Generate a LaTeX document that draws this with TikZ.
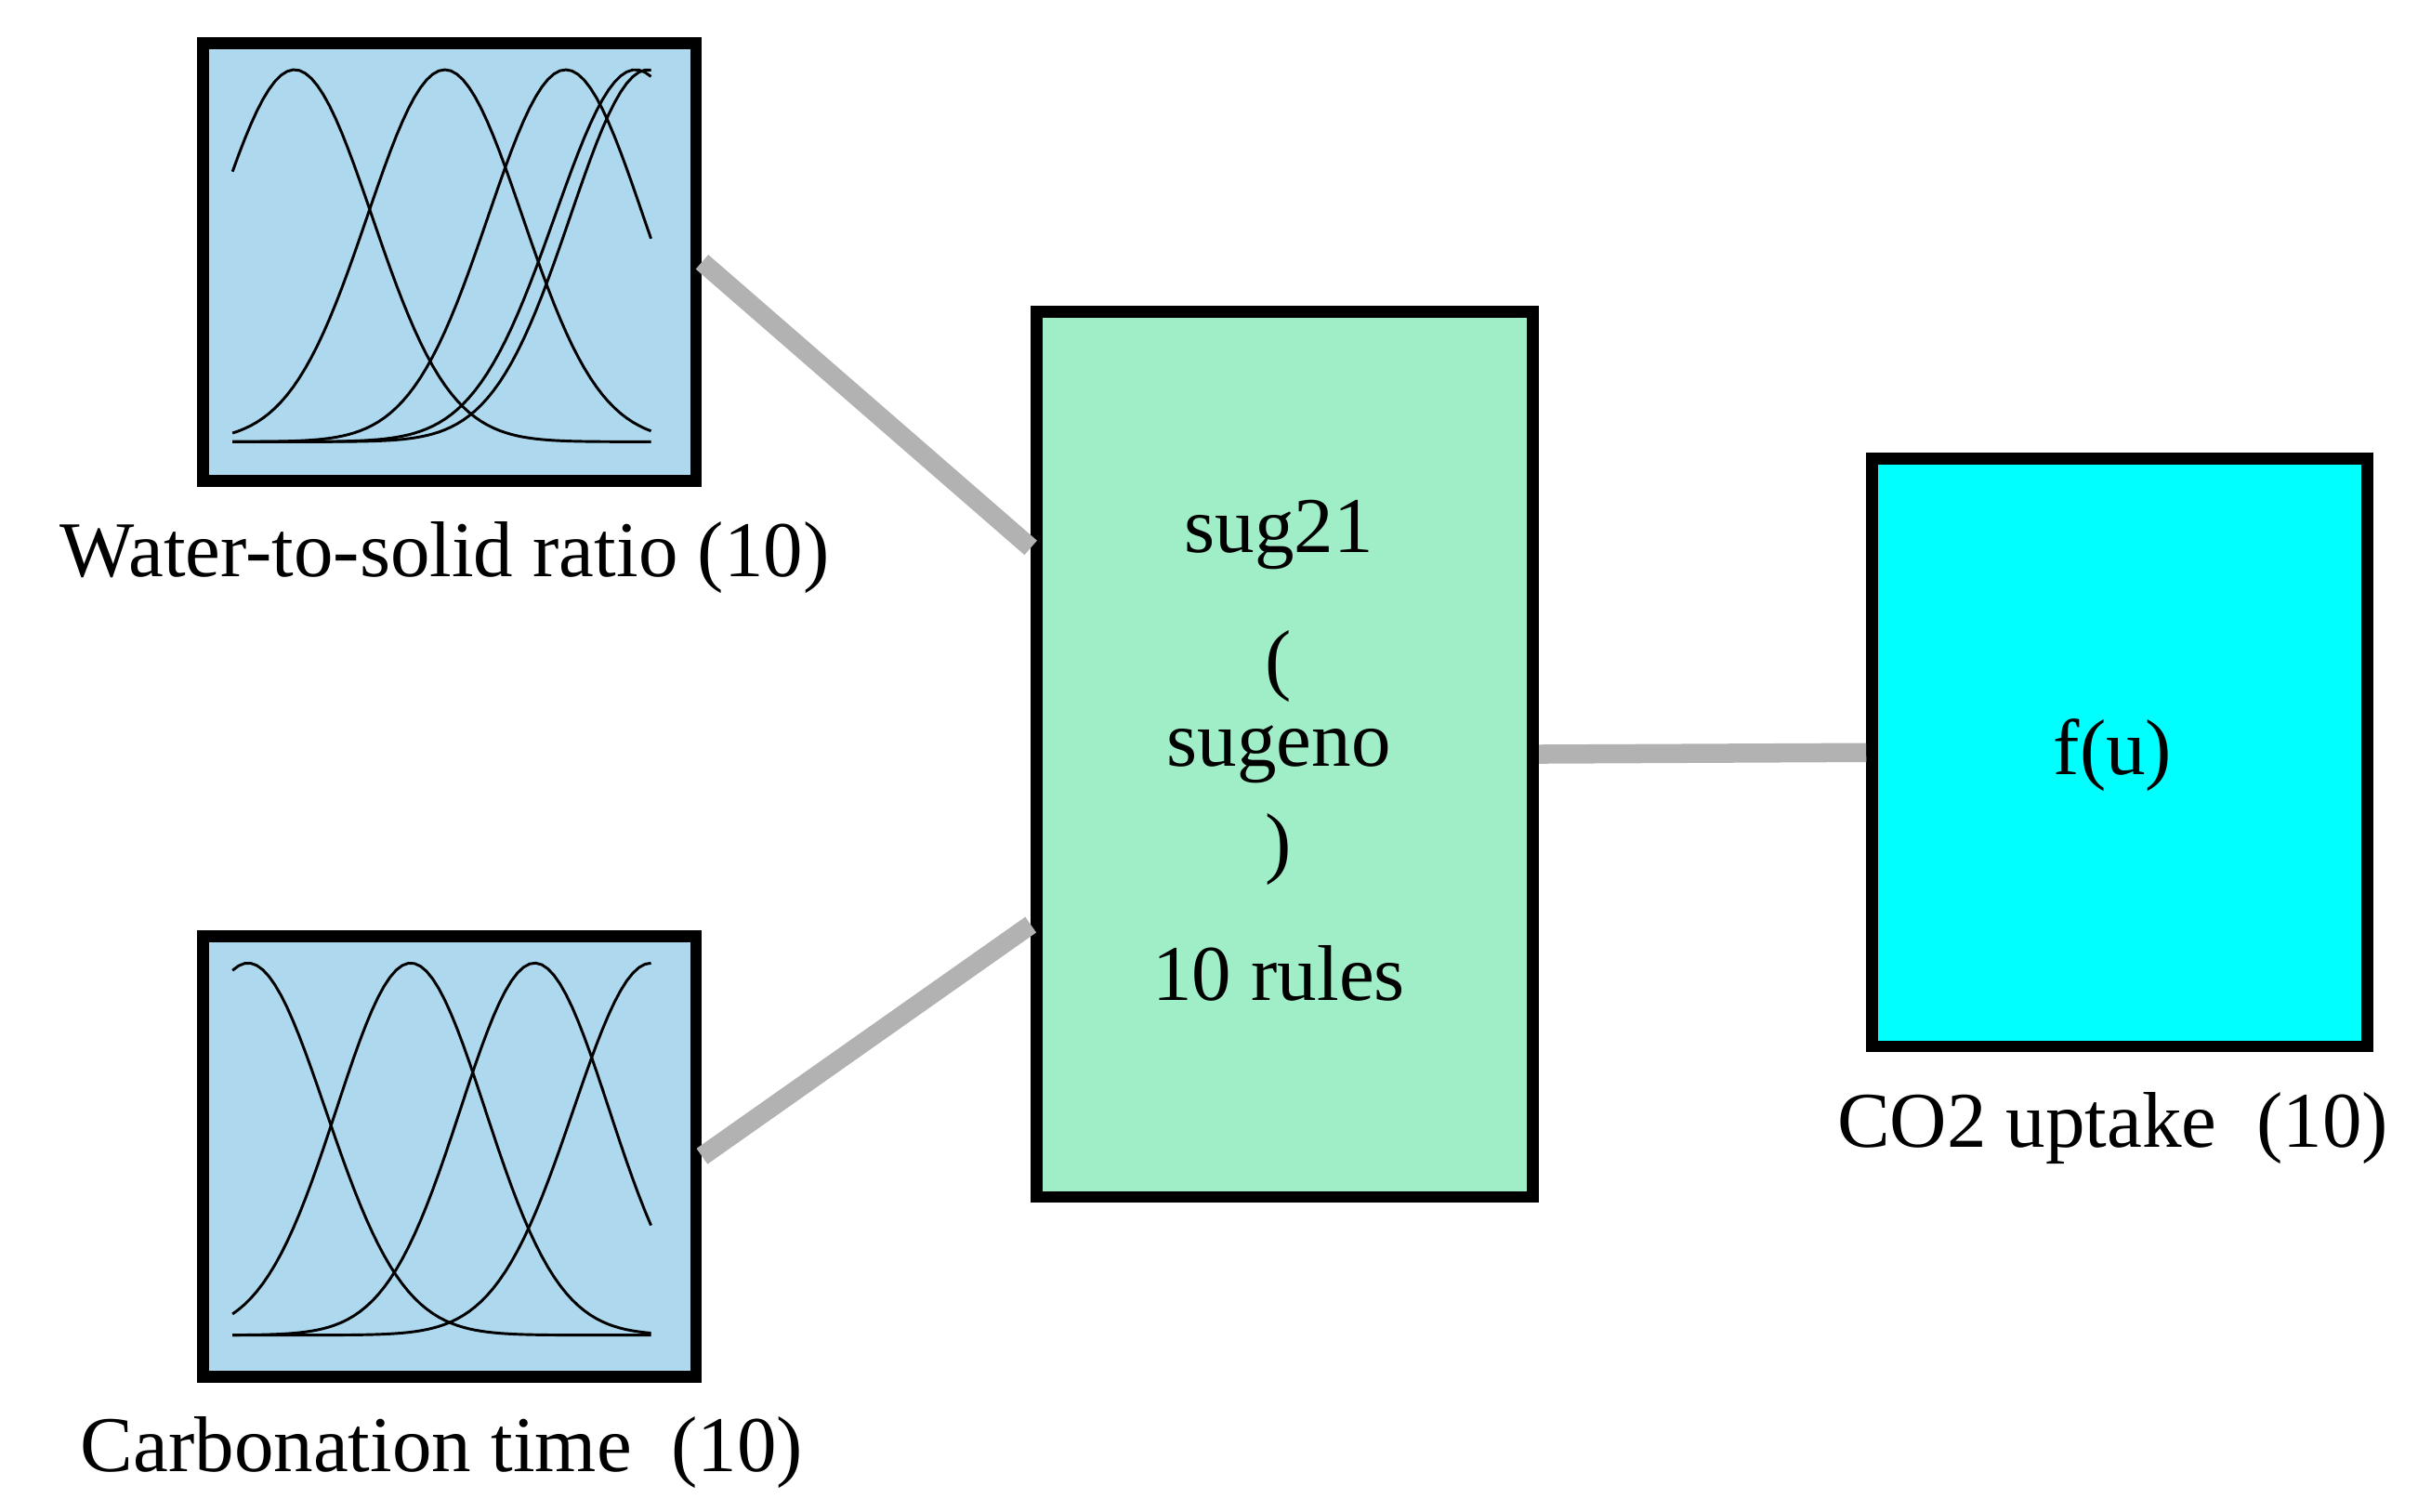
\documentclass[tikz,border=0pt]{standalone}
\usepackage{fontspec}
\setmainfont{Liberation Serif}
\usetikzlibrary{calc}

\definecolor{inblue}{RGB}{173,216,238}
\definecolor{rulegreen}{RGB}{160,238,200}
\definecolor{outcyan}{RGB}{0,255,255}
\tikzset{
  box/.style = {draw, line width=2.2pt, inner sep=0pt, anchor=north west},
  link/.style = {draw=black!30, line width=3.5pt},
  lbl/.style = {font=\fontsize{14.5}{17}\selectfont}
}
\newcommand{\mf}[2]{% centre, width
  \draw[line width=0.5pt, domain=150:420, samples=70]
    plot (\x, {285 - 240*exp(-0.5*((\x-#1)/#2)^2)});}

\begin{document}
\begin{tikzpicture}[x=0.01cm, y=-0.01cm]
  \useasboundingbox (0,0) rectangle (1560,975);
  % blocks
  \node[box, fill=inblue, minimum width=3.18cm, minimum height=2.82cm] (water) at (127,24) {};
  \node[box, fill=inblue, minimum width=3.18cm, minimum height=2.84cm] (time) at (127,600) {};
  \node[box, fill=rulegreen, minimum width=3.2cm, minimum height=5.71cm] (rules) at (665,197) {};
  \node[box, fill=outcyan, minimum width=3.19cm, minimum height=3.79cm] (out) at (1204,292) {};
  % texts
  \node[lbl] (wlab) at (287,360) {Water-to-solid ratio (10)};
  \node[lbl] (tlab) at (285,937) {Carbonation time~ (10)};
  \node[lbl] (olab) at (1363,728) {CO2 uptake~ (10)};
  \node[lbl] (t1) at (825,345) {sug21};
  \node[lbl] (t2) at (825,430) {(};
  \node[lbl] (t3) at (825,487) {sugeno};
  \node[lbl] (t4) at (825,548) {)};
  \node[lbl] (t5) at (825,628) {10 rules};
  \node[lbl] (fu) at (1363,487) {f(u)};
  % membership functions
  \foreach \c/\s in {190/50, 287/50, 365/50, 410/52, 418/50} {\mf{\c}{\s}}
  \begin{scope}[yshift=-5.76cm]
    \foreach \c/\s in {160/50, 265/48, 345/48, 420/50} {\mf{\c}{\s}}
  \end{scope}
  % connections
  \coordinate (r1) at ($(rules.north west)!0.27!(rules.south west)$);
  \coordinate (r2) at ($(rules.north west)!0.69!(rules.south west)$);
  \draw[link] (water.east) -- (r1);
  \draw[link] ($(time.north east)!0.5!(time.south east)$) -- (r2);
  \draw[link] (rules.east) -- (out.west);
\end{tikzpicture}
\end{document}
